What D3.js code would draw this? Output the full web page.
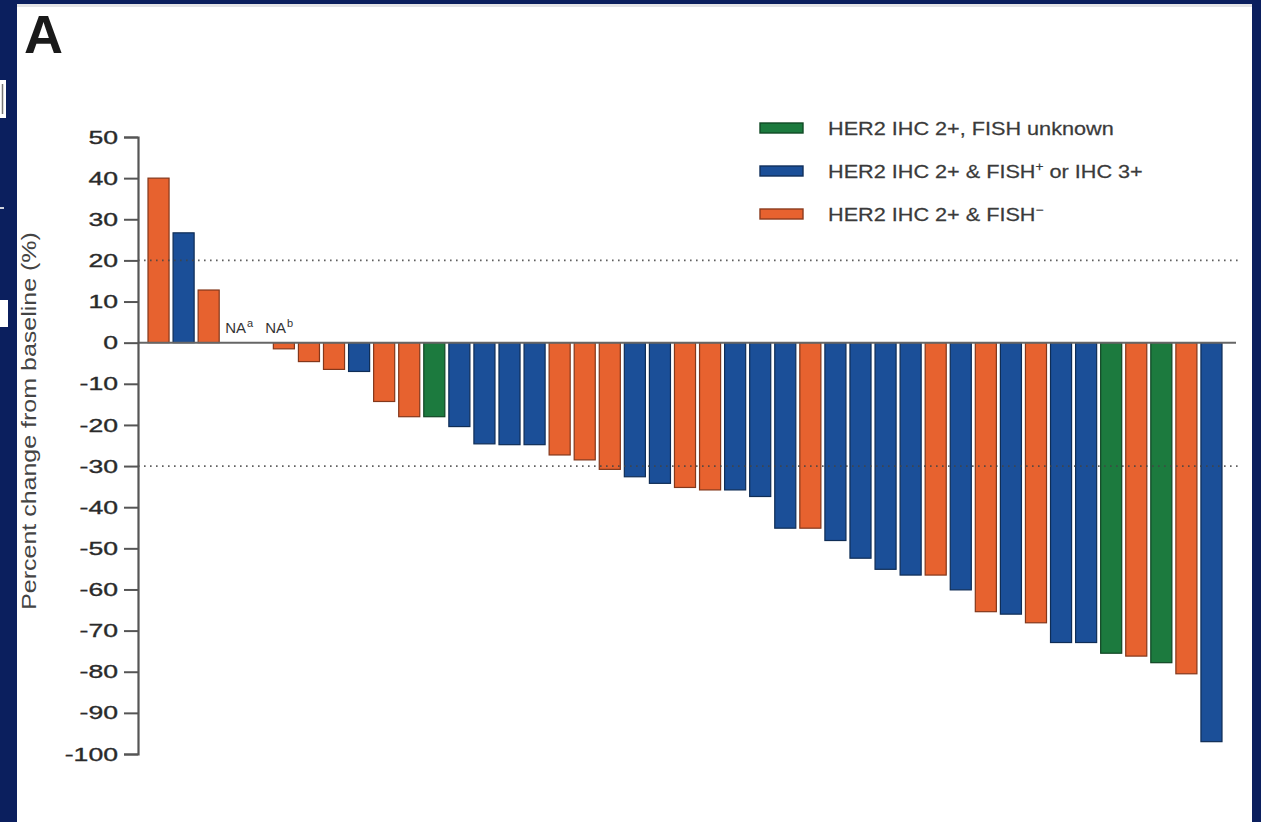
<!DOCTYPE html>
<html>
<head>
<meta charset="utf-8">
<script src="https://cdn.jsdelivr.net/npm/d3@7"></script>
<style>
  html, body { margin: 0; padding: 0; background: #0b1f5e; }
  svg { display: block; }
  text { font-family: "Liberation Sans", Arial, sans-serif; }
</style>
</head>
<body>
<svg id="chart" width="1261" height="822"></svg>
<script>
// Best percent change from baseline in tumour size, one entry per patient (null = not assessable)
const changeValues = [
  40, 26.7, 12.8, null, null, -1.5, -4.6, -6.5, -7.0, -14.3,
  -18.0, -18.0, -20.4, -24.6, -24.8, -24.8, -27.3, -28.5, -30.8, -32.6,
  -34.2, -35.2, -35.8, -35.8, -37.4, -45.1, -45.1, -48.1, -52.4, -55.1,
  -56.5, -56.5, -60.1, -65.4, -66.0, -68.1, -72.9, -72.9, -75.5, -76.2,
  -77.8, -80.5, -97.0
];
// HER2 status group per patient: U = IHC 2+ FISH unknown, P = IHC 2+ & FISH+ or IHC 3+, N = IHC 2+ & FISH-
const statusGroups = [
  "N", "P", "N", null, null, "N", "N", "N", "P", "N",
  "N", "U", "P", "P", "P", "P", "N", "N", "N", "P",
  "P", "N", "N", "P", "P", "P", "N", "P", "P", "P",
  "P", "N", "P", "N", "P", "N", "P", "P", "U", "N",
  "U", "N", "P"
];
// footnote marks for the non-assessable patients
const naNotes = ["a", "b"];

const groupKeys = ["U", "P", "N"];
const groupLabels = [
  [{t: "HER2 IHC 2+, FISH unknown"}],
  [{t: "HER2 IHC 2+ & FISH"}, {t: "+", sup: true}, {t: " or IHC 3+"}],
  [{t: "HER2 IHC 2+ & FISH"}, {t: "\u2212", sup: true}]
];
const groupColors = ["#1c7a3e", "#1b4f98", "#e7622f"];

const yTicks = [50, 40, 30, 20, 10, 0, -10, -20, -30, -40, -50, -60, -70, -80, -90, -100];
const refLines = [20, -30];
const yTitle = "Percent change from baseline (%)";
const panelLetter = "A";

const patients = changeValues.map((v, i) => ({id: i + 1, value: v, group: statusGroups[i]}));

const svg = d3.select("#chart");
const W = 1261, H = 822;

// page frame: white panel on a navy slide
svg.append("rect").attr("x", 0).attr("y", 0).attr("width", W).attr("height", H).attr("fill", "#0b1f5e");
svg.append("rect").attr("x", 17).attr("y", 4).attr("width", 1235).attr("height", H - 4).attr("fill", "#ffffff");
svg.append("rect").attr("x", 17).attr("y", 4).attr("width", 1235).attr("height", 3).attr("fill", "#e4e4e6");
// slivers of the neighbouring panel at the left edge
svg.append("rect").attr("x", 0).attr("y", 80).attr("width", 6).attr("height", 38).attr("fill", "#ffffff");
svg.append("line").attr("x1", 2.5).attr("x2", 2.5).attr("y1", 84).attr("y2", 114).attr("stroke", "#777").attr("stroke-width", 1.5);
svg.append("rect").attr("x", 0).attr("y", 207).attr("width", 4).attr("height", 2).attr("fill", "#cfd3dd");
svg.append("rect").attr("x", 0).attr("y", 300).attr("width", 8).attr("height", 27).attr("fill", "#ffffff");

const color = d3.scaleOrdinal().domain(groupKeys).range(groupColors);

const x = d3.scaleBand()
  .domain(patients.map(d => d.id))
  .range([148, 1222])
  .paddingInner(0.16)
  .paddingOuter(0);

const y = d3.scaleLinear().domain([-100, 50]).range([754, 137]);
const axisX = 138;
const lineEnd = x.range()[1] + 14;

// horizontally stretch a text node about its anchor
function stretch(sel, k) {
  sel.each(function () {
    const t = d3.select(this);
    const tx = +t.attr("x") || 0;
    t.attr("x", 0).attr("transform", `translate(${tx},0) scale(${k},1)`);
  });
}

// bars
const plot = svg.append("g");
plot.selectAll("rect.bar")
  .data(patients.filter(d => d.value !== null))
  .join("rect")
  .attr("class", "bar")
  .attr("x", d => x(d.id))
  .attr("width", x.bandwidth())
  .attr("y", d => y(Math.max(0, d.value)))
  .attr("height", d => Math.abs(y(d.value) - y(0)))
  .attr("fill", d => color(d.group))
  .attr("stroke", d => d3.color(color(d.group)).darker(1.6))
  .attr("stroke-width", 1.2);

// response thresholds
plot.selectAll("line.ref")
  .data(refLines)
  .join("line")
  .attr("class", "ref")
  .attr("x1", axisX).attr("x2", lineEnd + 5)
  .attr("y1", d => y(d)).attr("y2", d => y(d))
  .attr("stroke", "#444")
  .attr("stroke-width", 1.7)
  .attr("stroke-dasharray", "1.6,4.4")
  .attr("opacity", 0.85);

// baseline
plot.append("line")
  .attr("x1", axisX).attr("x2", lineEnd)
  .attr("y1", y(0)).attr("y2", y(0))
  .attr("stroke", "#666").attr("stroke-width", 2);

// not-assessable labels
const naIdx = patients.filter(d => d.value === null).map(d => d.id);
const naText = svg.append("text")
  .attr("x", x(naIdx[0]) + 2)
  .attr("y", y(0) - 10)
  .attr("font-size", 15)
  .attr("fill", "#333");
naNotes.forEach((n, i) => {
  naText.append("tspan").attr("dx", i === 0 ? 0 : 12).attr("dy", i === 0 ? 0 : 6).text("NA");
  naText.append("tspan").attr("dx", 1).attr("dy", -6).attr("font-size", 11).text(n);
});

// y axis
const yAxis = svg.append("g")
  .attr("transform", `translate(${axisX},0)`)
  .call(d3.axisLeft(y).tickValues(yTicks).tickSize(14).tickPadding(6).tickFormat(d3.format("d")));
yAxis.select(".domain").attr("stroke", "#555").attr("stroke-width", 2.2);
yAxis.selectAll(".tick line").attr("stroke", "#555").attr("stroke-width", 2);
yAxis.selectAll(".tick text")
  .attr("font-size", 19)
  .attr("fill", "#2a2a2a")
  .attr("stroke", "#2a2a2a")
  .attr("stroke-width", 0.35)
  .attr("font-family", "Liberation Sans, Arial, sans-serif")
  .text(d => d < 0 ? "-" + Math.abs(d) : d)
  .call(stretch, 1.4);

// y axis title
svg.append("text")
  .attr("transform", `translate(36,421) rotate(-90) scale(1.25,1)`)
  .attr("text-anchor", "middle")
  .attr("font-size", 20)
  .attr("fill", "#444")
  .text(yTitle);

// panel letter
svg.append("text")
  .attr("x", 24).attr("y", 53)
  .attr("font-size", 54)
  .attr("font-weight", "bold")
  .attr("fill", "#1a1a1a")
  .text(panelLetter);

// legend
const legend = svg.append("g").attr("transform", "translate(760,128)");
const rows = legend.selectAll("g.row")
  .data(groupKeys)
  .join("g")
  .attr("class", "row")
  .attr("transform", (d, i) => `translate(0,${i * 43})`);
rows.append("rect")
  .attr("x", 0).attr("y", -5)
  .attr("width", 43).attr("height", 10)
  .attr("fill", d => color(d))
  .attr("stroke", d => d3.color(color(d)).darker(1.4))
  .attr("stroke-width", 1.4);
rows.append("text")
  .attr("transform", "translate(68,7) scale(1.14,1)")
  .attr("font-size", 19)
  .attr("fill", "#3a3a3a")
  .attr("stroke", "#3a3a3a")
  .attr("stroke-width", 0.25)
  .each(function (d, i) {
    const t = d3.select(this);
    let raised = false;
    groupLabels[i].forEach(part => {
      if (part.sup) {
        t.append("tspan").attr("dy", -7).attr("font-size", 12).text(part.t);
        raised = true;
      } else {
        t.append("tspan").attr("dy", raised ? 7 : 0).text(part.t);
        raised = false;
      }
    });
  });
</script>
</body>
</html>
